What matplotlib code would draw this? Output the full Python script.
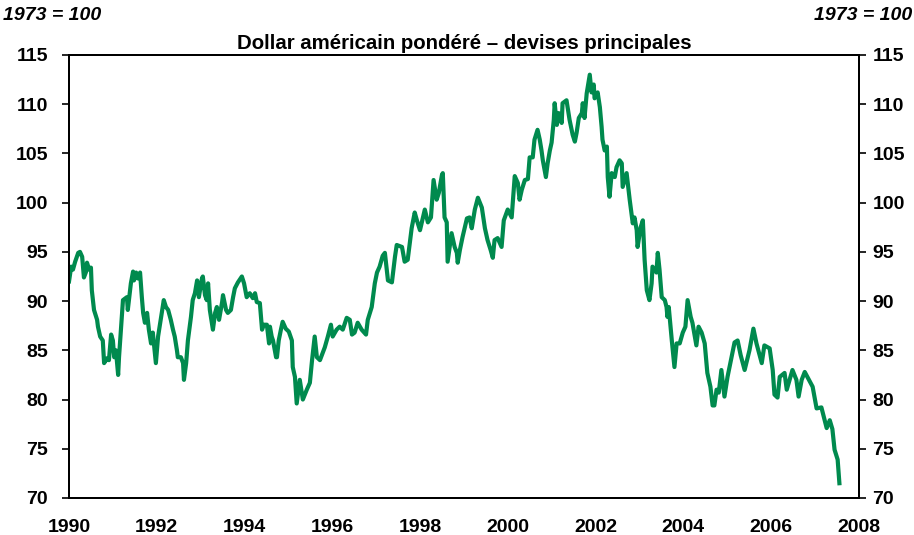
import matplotlib
matplotlib.use("Agg")
import matplotlib.pyplot as plt

plt.rcParams['font.family'] = ['Liberation Sans', 'DejaVu Sans']

# Dollar américain pondéré, indice 1973 = 100
years = [
    1990.00, 1990.05, 1990.09, 1990.14, 1990.21, 1990.25, 1990.30, 1990.34, 1990.39, 1990.41,
    1990.46, 1990.50, 1990.52, 1990.57, 1990.64, 1990.66, 1990.71, 1990.77, 1990.80, 1990.87,
    1990.91, 1990.96, 1991.00, 1991.03, 1991.07, 1991.12, 1991.14, 1991.21, 1991.23, 1991.32,
    1991.34, 1991.41, 1991.46, 1991.48, 1991.53, 1991.57, 1991.62, 1991.66, 1991.69, 1991.73,
    1991.78, 1991.82, 1991.87, 1991.91, 1991.98, 1992.03, 1992.10, 1992.16, 1992.21, 1992.26,
    1992.32, 1992.37, 1992.41, 1992.46, 1992.48, 1992.55, 1992.60, 1992.62, 1992.67, 1992.71,
    1992.78, 1992.82, 1992.87, 1992.92, 1992.96, 1993.03, 1993.05, 1993.10, 1993.14, 1993.17,
    1993.21, 1993.28, 1993.33, 1993.37, 1993.42, 1993.49, 1993.51, 1993.58, 1993.62, 1993.69,
    1993.74, 1993.78, 1993.85, 1993.94, 1993.99, 1994.05, 1994.12, 1994.19, 1994.24, 1994.28,
    1994.35, 1994.40, 1994.44, 1994.51, 1994.56, 1994.58, 1994.62, 1994.65, 1994.72, 1994.74,
    1994.78, 1994.83, 1994.87, 1994.94, 1995.01, 1995.08, 1995.10, 1995.15, 1995.19, 1995.26,
    1995.33, 1995.42, 1995.49, 1995.54, 1995.60, 1995.65, 1995.72, 1995.83, 1995.90, 1995.97,
    1996.01, 1996.10, 1996.17, 1996.24, 1996.33, 1996.40, 1996.45, 1996.51, 1996.58, 1996.67,
    1996.77, 1996.81, 1996.90, 1996.97, 1997.02, 1997.08, 1997.15, 1997.20, 1997.27, 1997.36,
    1997.43, 1997.47, 1997.59, 1997.65, 1997.72, 1997.81, 1997.88, 1997.93, 1998.00, 1998.11,
    1998.18, 1998.25, 1998.31, 1998.38, 1998.43, 1998.50, 1998.52, 1998.56, 1998.61, 1998.63,
    1998.72, 1998.79, 1998.84, 1998.86, 1998.91, 1998.97, 1999.07, 1999.13, 1999.18, 1999.25,
    1999.32, 1999.41, 1999.48, 1999.54, 1999.61, 1999.66, 1999.70, 1999.77, 1999.86, 1999.91,
    2000.00, 2000.09, 2000.16, 2000.23, 2000.27, 2000.32, 2000.39, 2000.46, 2000.50, 2000.57,
    2000.61, 2000.68, 2000.73, 2000.77, 2000.80, 2000.87, 2000.91, 2000.96, 2001.00, 2001.05,
    2001.07, 2001.12, 2001.16, 2001.23, 2001.25, 2001.34, 2001.41, 2001.48, 2001.53, 2001.57,
    2001.62, 2001.69, 2001.71, 2001.75, 2001.80, 2001.87, 2001.91, 2001.96, 2001.98, 2002.05,
    2002.10, 2002.14, 2002.16, 2002.21, 2002.26, 2002.28, 2002.32, 2002.37, 2002.44, 2002.48,
    2002.55, 2002.60, 2002.62, 2002.71, 2002.78, 2002.85, 2002.89, 2002.94, 2002.96, 2003.03,
    2003.08, 2003.12, 2003.17, 2003.23, 2003.28, 2003.30, 2003.39, 2003.42, 2003.46, 2003.51,
    2003.58, 2003.62, 2003.64, 2003.67, 2003.74, 2003.80, 2003.85, 2003.92, 2003.99, 2004.05,
    2004.10, 2004.17, 2004.21, 2004.30, 2004.35, 2004.42, 2004.49, 2004.55, 2004.62, 2004.67,
    2004.71, 2004.76, 2004.81, 2004.87, 2004.94, 2005.01, 2005.17, 2005.24, 2005.31, 2005.40,
    2005.51, 2005.60, 2005.67, 2005.79, 2005.85, 2005.97, 2006.04, 2006.08, 2006.15, 2006.20,
    2006.31, 2006.36, 2006.49, 2006.58, 2006.63, 2006.70, 2006.77, 2006.83, 2006.95, 2007.04,
    2007.15, 2007.27, 2007.34, 2007.40, 2007.45, 2007.52, 2007.56,
]
index = [
    92.0, 93.5, 93.2, 94.0, 94.9, 95.0, 94.5, 92.4, 93.0, 93.9,
    93.2, 93.4, 91.1, 89.1, 88.1, 87.4, 86.4, 86.0, 83.7, 84.2,
    84.0, 86.6, 86.0, 84.3, 85.0, 82.5, 84.3, 88.8, 90.1, 90.4,
    89.1, 91.8, 93.0, 92.1, 92.9, 92.3, 92.9, 90.4, 88.8, 87.8,
    88.8, 87.1, 85.7, 86.8, 83.7, 86.4, 88.4, 90.1, 89.4, 89.1,
    88.1, 87.1, 86.4, 85.0, 84.3, 84.3, 83.7, 82.0, 83.7, 86.0,
    88.4, 90.1, 90.8, 92.1, 90.4, 92.3, 92.5, 90.6, 90.1, 91.8,
    89.1, 87.1, 88.8, 89.4, 88.1, 89.9, 90.6, 89.1, 88.8, 89.1,
    90.4, 91.3, 91.9, 92.5, 91.8, 90.4, 90.8, 90.3, 90.8, 89.9,
    89.8, 87.1, 87.6, 87.6, 85.7, 87.4, 86.4, 86.0, 84.3, 84.3,
    86.0, 87.1, 87.9, 87.2, 86.9, 86.0, 83.3, 82.3, 79.6, 82.0,
    80.0, 81.0, 81.7, 84.0, 86.4, 84.3, 84.0, 85.3, 86.4, 87.6,
    86.4, 87.1, 87.4, 87.1, 88.3, 88.1, 86.6, 86.8, 87.8, 87.1,
    86.6, 88.1, 89.4, 91.8, 92.9, 93.5, 94.6, 94.9, 92.1, 91.9,
    94.5, 95.7, 95.5, 94.0, 94.2, 97.4, 99.0, 98.2, 97.2, 99.3,
    98.0, 98.5, 102.3, 100.3, 101.0, 102.8, 103.0, 98.5, 98.0, 94.0,
    96.9, 95.5, 94.9, 93.9, 95.2, 96.5, 98.4, 98.5, 97.4, 99.3,
    100.5, 99.5, 97.4, 96.2, 95.2, 94.4, 96.2, 96.4, 95.5, 98.2,
    99.3, 98.5, 102.7, 102.0, 100.3, 101.3, 102.3, 102.4, 104.6, 104.6,
    106.4, 107.4, 106.4, 105.3, 104.3, 102.6, 104.0, 105.3, 106.1, 108.4,
    110.1, 107.9, 109.1, 108.1, 110.1, 110.4, 108.4, 106.9, 106.2, 107.1,
    108.6, 109.1, 110.1, 108.6, 111.1, 113.0, 111.2, 112.0, 110.6, 111.2,
    109.7, 107.7, 106.4, 105.3, 105.7, 102.6, 100.6, 103.0, 102.6, 103.6,
    104.3, 104.0, 101.6, 103.0, 100.3, 97.9, 98.5, 97.2, 95.5, 97.5,
    98.2, 94.2, 91.1, 90.1, 91.8, 93.5, 92.9, 94.9, 93.2, 90.4,
    90.1, 89.4, 88.4, 89.4, 86.0, 83.3, 85.7, 85.7, 86.8, 87.4,
    90.1, 88.4, 87.8, 85.5, 87.4, 86.8, 85.7, 82.7, 81.3, 79.4,
    79.4, 81.0, 80.7, 83.0, 80.3, 82.3, 85.8, 86.0, 84.5, 83.0,
    85.0, 87.2, 85.7, 83.7, 85.5, 85.2, 83.0, 80.5, 80.2, 82.3,
    82.7, 81.0, 83.0, 82.0, 80.3, 82.0, 82.8, 82.3, 81.3, 79.1,
    79.2, 77.1, 77.9, 77.0, 74.9, 73.9, 71.5,
]

x_ticks = list(range(1990, 2009, 2))
y_ticks = list(range(70, 116, 5))

fig = plt.figure(figsize=(9.14, 5.35), dpi=100)
ax = fig.add_axes([0.0755, 0.0692, 0.864, 0.828])
ax.plot(years, index, color='#008A4E', linewidth=3.0, solid_joinstyle='round')

ax.set_xlim(1990, 2008)
ax.set_ylim(70, 115)
ax.set_xticks(x_ticks)
ax.set_yticks(y_ticks)
ax.tick_params(axis='x', length=0, pad=15, labelsize=14)
ax.tick_params(axis='y', length=5, width=1.2, direction='out', pad=10, labelsize=14)
for lab in ax.get_xticklabels() + ax.get_yticklabels():
    lab.set_fontweight('bold')
for sp in ax.spines.values():
    sp.set_linewidth(1.4)

ax2 = ax.twinx()
ax2.set_ylim(70, 115)
ax2.set_yticks(y_ticks)
ax2.tick_params(axis='y', length=5, width=1.2, direction='out', pad=5, labelsize=14)
for lab in ax2.get_yticklabels():
    lab.set_fontweight('bold')
for sp in ax2.spines.values():
    sp.set_linewidth(1.4)

# titre centré sur la zone du graphique
ax.text(0.5, 1.025, 'Dollar américain pondéré – devises principales', transform=ax.transAxes,
        ha='center', va='center', fontsize=14.7, fontweight='bold')
fig.text(0.003, 0.971, '1973 = 100', ha='left', va='center',
         fontsize=14, fontweight='bold', style='italic')
fig.text(0.998, 0.971, '1973 = 100', ha='right', va='center',
         fontsize=14, fontweight='bold', style='italic')

fig.savefig('out.png', dpi=100)
